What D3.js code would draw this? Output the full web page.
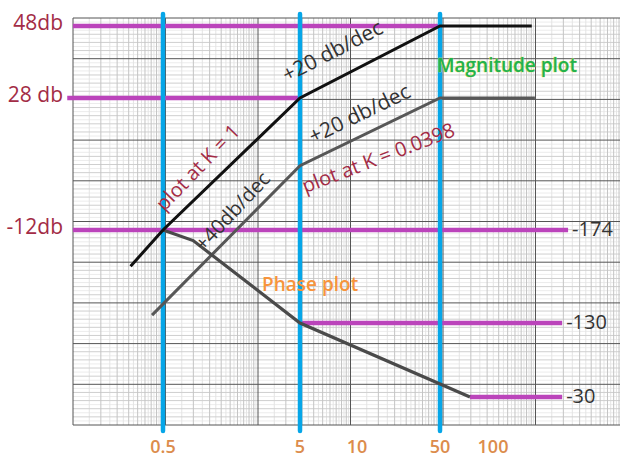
<!DOCTYPE html>
<html><head><meta charset="utf-8">
<script src="https://cdn.jsdelivr.net/npm/d3@7"></script>
<style>body{margin:0;background:#fff}svg{display:block}</style>
</head><body>
<svg id="c" width="620" height="457"></svg>
<script>
// ---------- data ----------
const freqTicks = [0.5, 5, 10, 50, 100];
const freqTickLabels = ["0.5", "5", "10", "50", "100"];
const markerFreqs = [0.5, 5, 50];                 // blue corner-frequency lines
const magK1 = [[0.29, -23], [0.5, -12], [5, 28], [50, 48], [166, 48]];
const magK0398 = [[0.416, -37.8], [5, 7.5], [50, 28], [173, 28]];
const phasePts = [[0.5, -174], [0.83, -169], [5, -130], [74, -30]];
const magLevels = [48, 28, -12];
const magLevelLabels = ["48db", "28 db", "-12db"];
const magLevelFrom = [0.11, 0.10, 0.11];
const magLevelTo = [50, 5, 267];
const phaseLevels = [-174, -130, -30];
const phaseLevelLabels = ["-174", "-130", "-30"];
const phaseLevelFrom = [null, 5, 74];
const phaseLevelTo = [267, 247, 247];

// ---------- scales ----------
const x = d3.scaleLog().domain(freqTicks).range([163, 300, 357, 440, 493]);
const yMag = d3.scaleLinear().domain(magLevels).range([26, 98, 230]);
const yPh = d3.scaleLinear().domain(phaseLevels).range([230, 323, 397]);
// graph paper
const paperX = d3.scaleLog().domain([1, 1e6]).range([73, 628]);
const paperY = d3.scaleLinear().domain([0, 10]).range([18, 425]);

const svg = d3.select("#c");
const FONT = "'Open Sans','Noto Sans',sans-serif";

// ---------- graph paper ----------
const paper = svg.append("g");
const right = 620;
const vFine = [], vMid = [], vMajor = [];
for (let d = 0; d < 6; d++) {
  const base = Math.pow(10, d);
  for (let n = 1; n < 10; n += 0.5) {
    const px = paperX(base * n);
    if (px > right) continue;
    if (n === 1) vMajor.push(px);
    else if (Number.isInteger(n)) vMid.push(px);
    else vFine.push(px);
  }
}
const hFine = [], hMid = [], hMajor = [];
for (let i = 0; i <= 100; i++) {
  const py = paperY(i / 10);
  if (i % 10 === 0) hMajor.push(py);
  else if (i % 2 === 0) hMid.push(py);
  else hFine.push(py);
}
function vlines(arr, color, w) {
  paper.selectAll(null).data(arr).join("line")
    .attr("x1", d => d).attr("x2", d => d)
    .attr("y1", paperY(0)).attr("y2", paperY(10))
    .attr("stroke", color).attr("stroke-width", w);
}
function hlines(arr, color, w) {
  paper.selectAll(null).data(arr).join("line")
    .attr("x1", paperX(1)).attr("x2", right)
    .attr("y1", d => d).attr("y2", d => d)
    .attr("stroke", color).attr("stroke-width", w);
}
hlines(hFine, "#ececec", 1);
vlines(vFine, "#e4e4e4", 1);
hlines(hMid, "#cfcfcf", 1);
vlines(vMid, "#c4c4c4", 1);
hlines(hMajor, "#555", 1);
vlines(vMajor, "#555", 1);

// ---------- magenta reference levels ----------
const MAG = "#bb44bb";
const lev = svg.append("g");
magLevels.forEach((v, i) => {
  lev.append("line")
    .attr("x1", x(magLevelFrom[i])).attr("x2", x(magLevelTo[i]))
    .attr("y1", yMag(v)).attr("y2", yMag(v))
    .attr("stroke", MAG).attr("stroke-width", 4.5);
});
phaseLevels.forEach((v, i) => {
  if (phaseLevelFrom[i] === null) return;
  lev.append("line")
    .attr("x1", x(phaseLevelFrom[i])).attr("x2", x(phaseLevelTo[i]))
    .attr("y1", yPh(v)).attr("y2", yPh(v))
    .attr("stroke", MAG).attr("stroke-width", 4.5);
});

// ---------- blue corner lines ----------
svg.append("g").selectAll("line").data(markerFreqs).join("line")
  .attr("x1", d => x(d)).attr("x2", d => x(d))
  .attr("y1", 14).attr("y2", 431)
  .attr("stroke", "#06a6e8").attr("stroke-width", 4.5)
  .attr("stroke-linecap", "round");

// ---------- curves ----------
const magLine = d3.line().x(d => x(d[0])).y(d => yMag(d[1]));
const phLine = d3.line().x(d => x(d[0])).y(d => yPh(d[1]));
svg.append("path").attr("d", magLine(magK0398)).attr("fill", "none")
  .attr("stroke", "#575757").attr("stroke-width", 3);
svg.append("path").attr("d", phLine(phasePts)).attr("fill", "none")
  .attr("stroke", "#4a4a4a").attr("stroke-width", 3.2);
svg.append("path").attr("d", magLine(magK1)).attr("fill", "none")
  .attr("stroke", "#111").attr("stroke-width", 3);

// ---------- level labels ----------
const RED = "#a32c46";
magLevels.forEach((v, i) => {
  svg.append("text").attr("x", 63).attr("y", yMag(v) + 4)
    .attr("text-anchor", "end").attr("font-family", FONT)
    .attr("font-size", 21).attr("fill", RED).text(magLevelLabels[i]);
});
phaseLevels.forEach((v, i) => {
  svg.append("text").attr("x", x(phaseLevelTo[i]) + 4).attr("y", yPh(v) + 6)
    .attr("font-family", FONT).attr("font-size", 20)
    .attr("fill", "#333").text(phaseLevelLabels[i]);
});

// ---------- x tick labels ----------
svg.append("g").selectAll("text").data(freqTicks).join("text")
  .attr("x", d => x(d)).attr("y", 453)
  .attr("text-anchor", "middle").attr("font-family", FONT)
  .attr("font-size", 18).attr("font-weight", 600)
  .attr("fill", "#dc8c4c").text((d, i) => freqTickLabels[i]);

// ---------- annotations along segments ----------
function along(p0, p1, t, off, txt, color, size, scaleY, angOverride) {
  const a = [x(p0[0]), scaleY(p0[1])], b = [x(p1[0]), scaleY(p1[1])];
  const dx = b[0] - a[0], dy = b[1] - a[1], L = Math.hypot(dx, dy);
  const ux = dx / L, uy = dy / L;
  const nx = uy, ny = -ux;
  const cx = a[0] + dx * t + nx * off, cy = a[1] + dy * t + ny * off;
  const ang = angOverride !== undefined ? angOverride : Math.atan2(dy, dx) * 180 / Math.PI;
  svg.append("text")
    .attr("transform", `translate(${cx},${cy}) rotate(${ang})`)
    .attr("text-anchor", "middle").attr("dy", "0.35em")
    .attr("font-family", FONT).attr("font-size", size)
    .attr("fill", color).text(txt);
}
along(magK1[2], magK1[3], 0.32, 27, "+20 db/dec", "#333", 21, yMag);
along(magK0398[1], magK0398[2], 0.49, 21, "+20 db/dec", "#333", 21, yMag);
along(magK1[1], magK1[2], 0.36, 21, "plot at K = 1", RED, 20, yMag, -46);
along(magK0398[0], magK0398[1], 0.62, 16, "+40db/dec", "#333", 20, yMag, -47);
along(magK0398[1], magK0398[2], 0.475, -27, "plot at K = 0.0398", RED, 20, yMag, -21);

// ---------- titles ----------
svg.append("text").attr("x", 437).attr("y", 72)
  .attr("font-family", FONT).attr("font-size", 19).attr("font-weight", 600)
  .attr("fill", "#22b24c").attr("stroke", "#e2e26a").attr("stroke-width", 0.7)
  .attr("paint-order", "stroke").text("Magnitude plot");
svg.append("text").attr("x", 262).attr("y", 291)
  .attr("font-family", FONT).attr("font-size", 19).attr("font-weight", 600)
  .attr("fill", "#f7943c").text("Phase plot");
</script>
</body></html>
